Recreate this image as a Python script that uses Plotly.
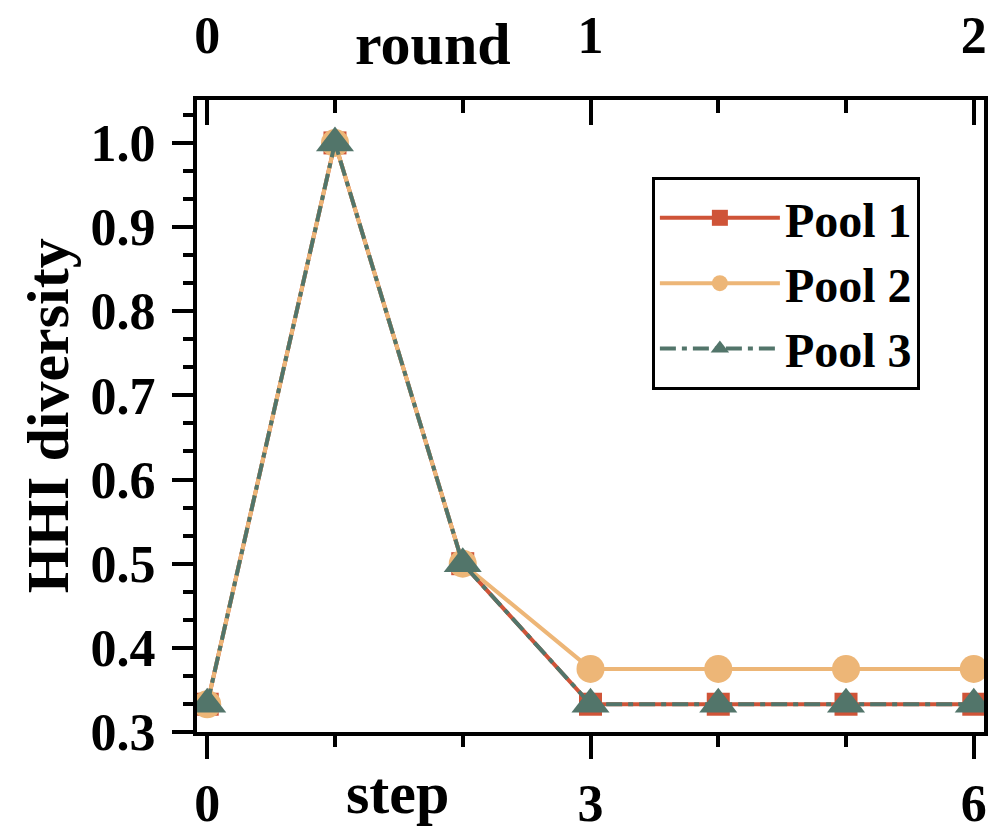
import plotly.graph_objects as go

steps = [0, 1, 2, 3, 4, 5, 6]
pool1 = [0.333, 1.0, 0.5, 0.333, 0.333, 0.333, 0.333]
pool2 = [0.333, 1.0, 0.5, 0.375, 0.375, 0.375, 0.375]
pool3 = [0.333, 1.0, 0.5, 0.333, 0.333, 0.333, 0.333]
rounds = [0, 1, 2]

FONT = "Liberation Serif"
C1, C2, C3 = "#CF5438", "#EDB677", "#52756A"
TICK_SIZE = 52
TITLE_SIZE = 60
LW = 4
TW = 3.5

fig = go.Figure()
fig.add_trace(go.Scatter(x=steps, y=pool1, name="Pool 1", mode="lines+markers",
                         line=dict(color=C1, width=4),
                         marker=dict(symbol="square", size=23, color=C1, line=dict(width=0)),
                         legendgroup="a"))
fig.add_trace(go.Scatter(x=steps, y=pool2, name="Pool 2", mode="lines+markers",
                         line=dict(color=C2, width=4),
                         marker=dict(symbol="circle", size=28, color=C2, line=dict(width=0)),
                         legendgroup="b"))
fig.add_trace(go.Scatter(x=steps, y=pool3, name="Pool 3", mode="lines+markers",
                         line=dict(color=C3, width=4, dash="16px,6px,5px,6px"),
                         marker=dict(symbol="triangle-up", size=33, color=C3, line=dict(width=0)),
                         legendgroup="c"))
# invisible trace to activate top axis
fig.add_trace(go.Scatter(x=rounds, y=[None, None, None], xaxis="x2", yaxis="y",
                         showlegend=False, hoverinfo="skip", mode="markers"))

xr = [-0.08, 6.08]
fig.update_layout(
    width=991, height=825,
    margin=dict(l=189, r=15, t=92, b=101),
    plot_bgcolor="white", paper_bgcolor="white",
    font=dict(family=FONT, size=TICK_SIZE, color="black"),
    showlegend=True,
    legend=dict(x=0.578, y=0.878, xanchor="left", yanchor="top",
                bordercolor="black", borderwidth=3, bgcolor="white",
                font=dict(family=FONT, size=48, color="black", weight="bold"),
                tracegroupgap=0, itemwidth=120),
    xaxis=dict(range=xr, tickvals=[0, 3, 6], ticktext=["0", "3", "6"],
               showline=True, linecolor="black", linewidth=LW, mirror=False,
               ticks="outside", ticklen=23, tickwidth=TW, tickcolor="black",
               minor=dict(ticks="outside", ticklen=11, tickwidth=TW, tickcolor="black", dtick=1, tick0=0),
               showgrid=False, zeroline=False, automargin=False,
               tickfont=dict(family=FONT, size=TICK_SIZE, weight="bold"), ticklabelstandoff=0),
    xaxis2=dict(range=[xr[0] / 3, xr[1] / 3], overlaying="x", side="top", anchor="y",
                tickvals=rounds, ticktext=[str(r) for r in rounds],
                showline=True, linecolor="black", linewidth=LW,
                ticks="inside", ticklen=25, tickwidth=TW, tickcolor="black",
                minor=dict(ticks="inside", ticklen=13, tickwidth=TW, tickcolor="black", dtick=1 / 3, tick0=0),
                showgrid=False, zeroline=False, automargin=False,
                tickfont=dict(family=FONT, size=TICK_SIZE, weight="bold"), ticklabelstandoff=22),
    yaxis=dict(range=[0.3, 1.051], dtick=0.1, tick0=0.3, tickformat=".1f",
               showline=True, linecolor="black", linewidth=LW, mirror=True,
               ticks="outside", ticklen=21, tickwidth=TW, tickcolor="black",
               minor=dict(ticks="outside", ticklen=10, tickwidth=TW, tickcolor="black", dtick=0.1 / 3, tick0=0.3),
               showgrid=False, zeroline=False, automargin=False,
               tickfont=dict(family=FONT, size=TICK_SIZE, weight="bold"), ticklabelstandoff=6),
    annotations=[
        dict(text="HHI diversity", xref="paper", yref="paper", x=-0.189, y=0.5, xanchor="center", yanchor="middle",
             textangle=-90, showarrow=False, font=dict(family=FONT, size=TITLE_SIZE, weight="bold")),
        dict(text="step", xref="paper", yref="paper", x=0.255, y=-0.097, xanchor="center", yanchor="middle",
             showarrow=False, font=dict(family=FONT, size=TITLE_SIZE, weight="bold")),
        dict(text="round", xref="paper", yref="paper", x=0.30, y=1.089, xanchor="center", yanchor="middle",
             showarrow=False, font=dict(family=FONT, size=TITLE_SIZE, weight="bold")),
    ],
)

fig.write_html("out.html")
